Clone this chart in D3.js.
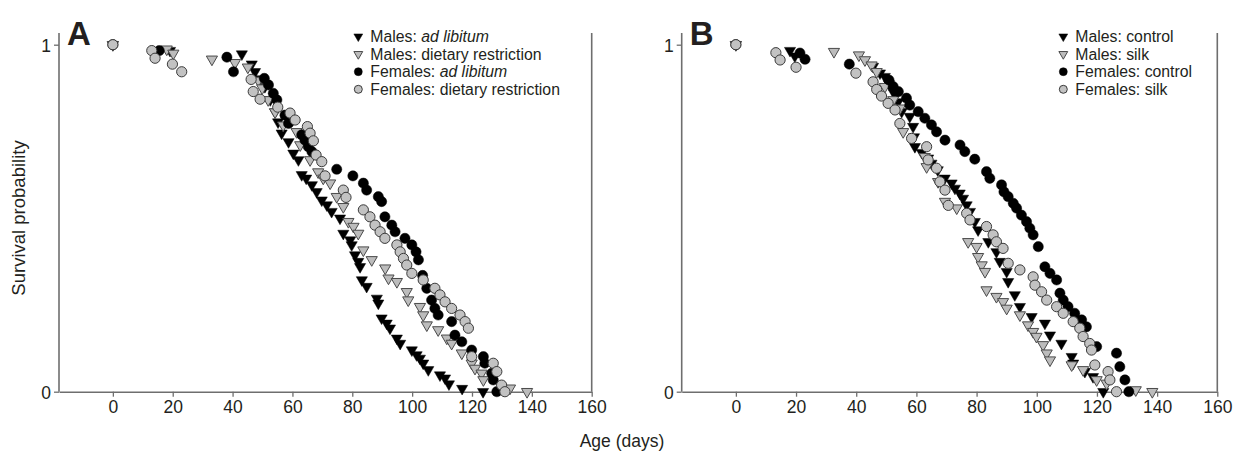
<!DOCTYPE html>
<html><head><meta charset="utf-8">
<script src="https://cdn.jsdelivr.net/npm/d3@7"></script>
<style>
body{margin:0;background:#fff}
svg{display:block}
text{font-family:"Liberation Sans",Arial,Helvetica,sans-serif;fill:#231f20}
</style>
</head><body>
<svg id="chart" width="1237" height="457"></svg>
<script>
// ---------- data (day, survival probability) ----------
const xTickValues = [0, 20, 40, 60, 80, 100, 120, 140, 160];
const yTickValues = [0, 1];
const xDomain = [-18, 160];
const panelNames = ["A", "B"];
const xAxisTitle = "Age (days)";
const yAxisTitle = "Survival probability";

const legendA = [["Males: ", "ad libitum"], ["Males: dietary restriction", ""], ["Females: ", "ad libitum"], ["Females: dietary restriction", ""]];
const legendB = [["Males: control", ""], ["Males: silk", ""], ["Females: control", ""], ["Females: silk", ""]];

const aMalesAdLib = [[0,1],[19.1,0.983],[43.1,0.973],[46.4,0.944],[47.5,0.922],[48.9,0.901],[50.8,0.879],[52.6,0.841],[54.2,0.806],[55.2,0.777],[56.4,0.745],[58.7,0.720],[60.3,0.687],[62.0,0.668],[63.1,0.625],[64.6,0.615],[66.5,0.596],[68.1,0.576],[69.8,0.552],[71.5,0.538],[73.1,0.519],[75.9,0.500],[77.0,0.456],[79.3,0.437],[79.8,0.423],[80.9,0.394],[82.0,0.375],[82.6,0.360],[83.2,0.322],[84.8,0.303],[88.2,0.269],[88.7,0.255],[89.8,0.212],[91.5,0.197],[92.6,0.183],[94.9,0.154],[96.0,0.139],[99.9,0.120],[101.5,0.106],[102.6,0.096],[103.7,0.082],[105.4,0.063],[109.3,0.048],[111.0,0.039],[112.3,0.022],[116.7,0.009],[123.7,0]];
const aMalesDR = [[0,1],[18.0,0.987],[20.2,0.975],[33.1,0.958],[40.8,0.948],[45.1,0.935],[48.6,0.897],[49.9,0.875],[51.9,0.841],[54.2,0.806],[56.9,0.768],[61.4,0.749],[62.6,0.711],[65.9,0.668],[68.6,0.633],[70.3,0.615],[72.6,0.601],[74.8,0.562],[77.0,0.533],[78.7,0.490],[80.4,0.476],[82.0,0.456],[83.7,0.408],[86.5,0.380],[91.0,0.356],[92.1,0.327],[94.9,0.317],[98.2,0.288],[98.7,0.264],[102.6,0.245],[103.7,0.221],[104.9,0.192],[108.7,0.178],[111.6,0.154],[113.2,0.139],[116.6,0.111],[119.9,0.082],[121.0,0.067],[123.2,0.053],[123.8,0.034],[132.7,0.010],[138.4,0]];
const aFemalesAdLib = [[0,1],[15.5,0.983],[38.1,0.964],[40.3,0.922],[50.6,0.903],[52.0,0.884],[53.6,0.860],[54.8,0.841],[57.5,0.797],[58.7,0.773],[63.1,0.740],[64.2,0.725],[65.3,0.706],[66.5,0.692],[74.8,0.641],[80.2,0.622],[83.7,0.601],[84.8,0.581],[88.7,0.562],[89.8,0.548],[90.9,0.504],[93.2,0.480],[94.3,0.461],[97.6,0.442],[99.9,0.423],[101.3,0.403],[102.1,0.380],[103.5,0.335],[104.9,0.298],[106.5,0.264],[107.6,0.240],[108.7,0.221],[113.2,0.202],[114.3,0.163],[116.6,0.144],[119.9,0.120],[123.8,0.101],[124.3,0.082],[126.6,0.053],[127.1,0.034],[128.3,0]];
const aFemalesDR = [[0,1],[13.0,0.983],[14.1,0.961],[19.9,0.944],[23.0,0.922],[46.2,0.900],[46.9,0.865],[49.2,0.843],[55.1,0.820],[59.2,0.803],[60.9,0.783],[65.0,0.764],[65.9,0.745],[67.0,0.723],[67.9,0.682],[69.8,0.663],[70.9,0.622],[77.0,0.581],[77.9,0.560],[83.7,0.524],[85.9,0.504],[87.6,0.480],[89.3,0.461],[90.9,0.442],[94.9,0.423],[96.0,0.403],[97.1,0.384],[98.2,0.365],[99.9,0.341],[103.7,0.322],[107.6,0.298],[109.3,0.279],[111.0,0.259],[113.2,0.240],[116.0,0.221],[117.7,0.202],[118.8,0.183],[119.9,0.101],[127.1,0.082],[128.3,0.058],[129.9,0.019],[131.0,0]];

const bMalesControl = [[0,1],[18.0,0.983],[19.6,0.967],[45.6,0.937],[47.9,0.918],[49.5,0.908],[50.9,0.887],[52.5,0.861],[53.9,0.835],[55.1,0.807],[57.8,0.793],[58.9,0.764],[59.2,0.734],[59.5,0.706],[61.8,0.689],[63.9,0.673],[65.0,0.658],[67.1,0.639],[69.4,0.615],[71.7,0.601],[72.8,0.586],[74.4,0.572],[75.5,0.557],[76.7,0.538],[77.8,0.519],[79.4,0.490],[80.5,0.466],[83.9,0.432],[86.6,0.403],[87.7,0.375],[90.0,0.346],[90.5,0.317],[92.7,0.279],[94.4,0.245],[98.3,0.216],[102.7,0.197],[104.4,0.163],[108.2,0.139],[111.6,0.101],[112.1,0.082],[116.0,0.058],[118.7,0.043],[122.1,0]];
const bMalesSilk = [[0,1],[32.6,0.980],[40.9,0.970],[42.9,0.956],[45.1,0.941],[46.8,0.922],[49.5,0.879],[52.3,0.841],[54.5,0.817],[55.6,0.749],[62.8,0.677],[63.4,0.648],[67.2,0.605],[69.5,0.548],[73.4,0.529],[77.2,0.432],[80.0,0.418],[80.5,0.389],[81.7,0.365],[82.8,0.346],[83.3,0.293],[86.6,0.274],[88.8,0.259],[90.0,0.240],[94.4,0.221],[97.1,0.192],[98.8,0.173],[99.9,0.159],[102.1,0.135],[103.3,0.111],[104.4,0.091],[111.6,0.077],[115.4,0.063],[119.9,0.034],[123.2,0.024],[132.9,0.005],[138.4,0]];
const bFemalesControl = [[0,1],[21.3,0.976],[23.0,0.958],[37.7,0.944],[50.9,0.898],[52.3,0.879],[54.0,0.865],[56.7,0.846],[57.8,0.826],[60.6,0.807],[62.8,0.788],[65.0,0.769],[66.7,0.749],[69.5,0.725],[74.5,0.711],[76.1,0.692],[79.4,0.670],[83.3,0.634],[84.4,0.615],[88.3,0.596],[89.1,0.576],[90.5,0.562],[92.2,0.543],[93.3,0.529],[94.9,0.509],[96.6,0.490],[97.7,0.471],[98.8,0.452],[100.5,0.418],[102.7,0.360],[104.4,0.341],[106.6,0.322],[107.7,0.284],[108.8,0.264],[110.4,0.245],[112.6,0.226],[114.9,0.207],[116.5,0.187],[119.9,0.130],[126.5,0.111],[127.6,0.072],[129.3,0.034],[130.6,0]];
const bFemalesSilk = [[0,1],[13.3,0.977],[14.7,0.956],[20.0,0.935],[39.9,0.918],[45.6,0.893],[46.8,0.871],[48.4,0.852],[50.6,0.831],[52.9,0.812],[54.5,0.773],[58.4,0.730],[63.4,0.706],[63.9,0.668],[66.7,0.644],[67.8,0.605],[69.5,0.581],[70.6,0.537],[76.7,0.514],[77.8,0.495],[83.3,0.476],[85.5,0.452],[86.6,0.432],[88.8,0.413],[90.5,0.370],[94.4,0.351],[98.8,0.331],[99.4,0.307],[101.6,0.288],[103.3,0.264],[106.6,0.245],[108.8,0.226],[112.1,0.202],[114.3,0.183],[115.4,0.159],[117.6,0.139],[118.2,0.120],[119.3,0.077],[123.7,0.058],[124.3,0.034],[126.5,0]];

// ---------- styles ----------
const markerStyles = [
  {shape: "tri", fill: "#000", stroke: "#000", sw: 0.5},
  {shape: "tri", fill: "#bcbcbc", stroke: "#4a4a4a", sw: 1},
  {shape: "circ", fill: "#000", stroke: "#000", sw: 0.5},
  {shape: "circ", fill: "#c2c2c2", stroke: "#3a3a3a", sw: 1}
];
const axisColor = "#6e6e6e";
const tickFont = 17.5;

const svg = d3.select("#chart");

function drawMarker(sel, st, cx, cy, big) {
  if (st.shape === "tri") {
    sel.append("path")
      .attr("d", d3.symbol().type(d3.symbolTriangle).size(big ? 54 : 34)())
      .attr("transform", `translate(${cx},${cy}) rotate(180)`)
      .attr("fill", st.fill).attr("stroke", st.stroke).attr("stroke-width", st.sw);
  } else {
    sel.append("circle").attr("cx", cx).attr("cy", cy).attr("r", big ? 5.1 : 4)
      .attr("fill", st.fill).attr("stroke", st.stroke).attr("stroke-width", st.sw);
  }
}

const panels = [
  {name: panelNames[0], left: 59, right: 591.7, series: [aMalesAdLib, aMalesDR, aFemalesAdLib, aFemalesDR], legend: legendA, legX: 358.3},
  {name: panelNames[1], left: 681.7, right: 1217.3, series: [bMalesControl, bMalesSilk, bFemalesControl, bFemalesSilk], legend: legendB, legX: 1063.3}
];
const bottomY = 391.7, topAxisY = 33;

panels.forEach(p => {
  const x = d3.scaleLinear().domain(xDomain).range([p.left, p.right]);
  const y = d3.scaleLinear().domain([0, 1]).range([bottomY, 44.7]);
  const g = svg.append("g");

  g.append("line").attr("x1", p.left).attr("x2", p.left).attr("y1", topAxisY).attr("y2", bottomY)
    .attr("stroke", axisColor).attr("stroke-width", 1.6);
  g.append("line").attr("x1", x(160)).attr("x2", x(160)).attr("y1", topAxisY).attr("y2", bottomY)
    .attr("stroke", axisColor).attr("stroke-width", 1.6);

  const xa = g.append("g").attr("transform", `translate(0,${bottomY})`)
    .call(d3.axisBottom(x).tickValues(xTickValues).tickSize(5).tickSizeOuter(0).tickPadding(4).tickFormat(d3.format("d")));
  const ya = g.append("g").attr("transform", `translate(${p.left},0)`)
    .call(d3.axisLeft(y).tickValues(yTickValues).tickSize(5).tickPadding(3).tickFormat(d3.format("d")));
  ya.select(".domain").remove();
  [xa, ya].forEach(a => {
    a.select(".domain").attr("stroke", axisColor).attr("stroke-width", 1.6);
    a.selectAll(".tick line").attr("stroke", axisColor).attr("stroke-width", 1.3);
    a.selectAll(".tick text").attr("font-size", tickFont).attr("fill", "#231f20")
      .attr("font-family", '"Liberation Sans",Arial,sans-serif');
  });
  ya.selectAll(".tick text").attr("dy", "0.36em");

  g.append("text").attr("x", p.left + 8).attr("y", 45).attr("font-size", 33).attr("font-weight", "bold")
    .attr("fill", "#231f20").text(p.name);

  p.series.forEach((s, i) => {
    const sg = g.append("g");
    s.forEach(d => drawMarker(sg, markerStyles[i], x(d[0]), y(d[1]), true));
  });

  p.legend.forEach((l, i) => {
    const cy = 36.5 + i * 17.6;
    drawMarker(g, markerStyles[i], p.legX, cy, false);
    const t = g.append("text").attr("x", p.legX + 12).attr("y", cy + 5.5).attr("font-size", 15.8);
    t.append("tspan").text(l[0]);
    if (l[1]) t.append("tspan").attr("font-style", "italic").text(l[1]);
  });
});

svg.append("text").attr("x", 622).attr("y", 447).attr("text-anchor", "middle").attr("font-size", tickFont).text(xAxisTitle);
svg.append("text").attr("transform", "translate(25,218) rotate(-90)").attr("text-anchor", "middle").attr("font-size", 18.5).text(yAxisTitle);
</script>
</body></html>
